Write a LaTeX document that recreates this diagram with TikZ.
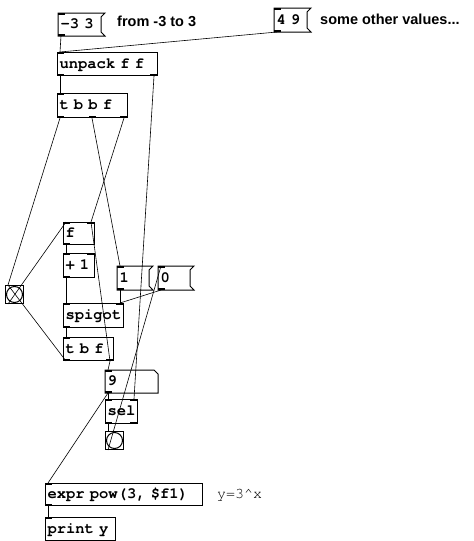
\documentclass[tikz,border=0pt]{standalone}
\usepackage{fontspec}
\setmainfont{Liberation Sans}
\newfontfamily\pdmono{texgyrecursor}[Extension=.otf, UprightFont=*-regular, BoldFont=*-bold]
\newcommand\pdfnt{\pdmono\bfseries\fontsize{15.5}{17}\selectfont\fontdimen2\font=9.3pt\fontdimen3\font=0pt\fontdimen4\font=0pt}
\newcommand\cmtfnt{\rmfamily\bfseries\fontsize{14.5}{17}\selectfont}
\tikzset{
  boxline/.style={line width=1pt, line join=miter},
  pdbox/.style={boxline, draw, anchor=north west, inner xsep=2pt, inner ysep=0pt,
    font=\pdfnt, align=left, text height=11pt, text depth=3pt},
  pdmsgbox/.style={pdbox, draw=none},
  bangbox/.style={boxline, draw, anchor=north west, inner sep=0pt, minimum width=18pt, minimum height=18pt},
  conn/.style={line width=0.6pt},
  cmt/.style={anchor=west, inner sep=0pt, font=\cmtfnt},
}
\newcommand\pdmsg[1]{\draw[boxline] (#1.north west) -- ([xshift=4pt]#1.north east) -- ([yshift=-4pt]#1.north east) -- ([yshift=4pt]#1.south east) -- ([xshift=4pt]#1.south east) -- (#1.south west) -- cycle;}
\newcommand\pdnum[1]{\draw[boxline] (#1.north west) -- ([xshift=-4pt]#1.north east) -- ([yshift=-4pt]#1.north east) -- (#1.south east) -- (#1.south west) -- cycle;}
\newcommand\iol[3]{%
  \foreach \xx in {#2}{\fill ([xshift=\xx pt]#1.north west) rectangle ++(7,2);}%
  \foreach \xx in {#3}{\fill ([xshift=\xx pt]#1.south west) rectangle ++(7,-2);}}
\begin{document}
\begin{tikzpicture}[x=1pt,y=-1pt]
\useasboundingbox[fill=white] (0,0) rectangle (474,541);
% message boxes
\node[pdmsgbox, minimum width=42pt, minimum height=22pt, text width=38pt] (m1) at (58,13) {\mbox{-3 3}};
\node[pdmsgbox, minimum width=32pt, minimum height=23pt, text width=28pt] (m2) at (274,8) {\mbox{4 9}};
\node[pdmsgbox, minimum width=31pt, minimum height=23pt, text width=27pt] (one) at (117,266) {\mbox{1}};
\node[pdmsgbox, minimum width=31pt, minimum height=23pt, text width=27pt] (zero) at (158,266) {\mbox{0}};
\pdmsg{m1}\pdmsg{m2}\pdmsg{one}\pdmsg{zero}
% comments
\node[cmt] (c1) at (117,21) {from -3 to 3};
\node[cmt] (c2) at (320,19) {some other values...};
\node[anchor=west, inner sep=0pt, font=\pdmono\fontsize{15}{17}\selectfont] (c3) at (217,495) {y=3\textasciicircum x};
% object boxes
\node[pdbox, minimum width=100pt, minimum height=23pt, text width=96pt] (unpack) at (57,52) {\mbox{unpack f f}};
\node[pdbox, minimum width=70pt, minimum height=24pt, text width=66pt] (tbbf) at (57,93) {\mbox{t b b f}};
\node[pdbox, minimum width=31pt, minimum height=22pt, text width=27pt] (f) at (63,222) {\mbox{f}};
\node[pdbox, minimum width=31pt, minimum height=24pt, text width=27pt] (plus) at (63,253) {\mbox{+ 1}};
\node[pdbox, minimum width=60pt, minimum height=24pt, text width=56pt] (spigot) at (63,303) {\mbox{spigot}};
\node[pdbox, minimum width=50pt, minimum height=23pt, text width=46pt] (tbf) at (63,337) {\mbox{t b f}};
\node[pdmsgbox, minimum width=52pt, minimum height=22pt, text width=48pt] (nine) at (105,370) {\mbox{9}};
\pdnum{nine}
\node[pdbox, minimum width=32pt, minimum height=24pt, text width=28pt] (sel) at (105,399) {\mbox{sel}};
\node[pdbox, minimum width=157pt, minimum height=22pt, text width=153pt] (expr) at (45,483) {\mbox{expr pow(3, \$f1)}};
\node[pdbox, minimum width=70pt, minimum height=23pt, text width=66pt] (print) at (45,517) {\mbox{print y}};
% bangs
\node[bangbox] (bang1) at (5,285) {};
\draw[boxline] (bang1.center) circle (8pt);
\node[bangbox] (bang2) at (105,431) {};
\draw[boxline] (bang2.center) circle (8pt);
% inlets and outlets
\iol{m1}{0}{0}
\iol{m2}{0}{0}
\iol{one}{0}{0}
\iol{zero}{0}{0}
\iol{unpack}{0}{0,93}
\iol{tbbf}{0}{0,32,63}
\iol{f}{0,24}{0}
\iol{plus}{0,24}{0}
\iol{spigot}{0,53}{0}
\iol{tbf}{0}{0,43}
\iol{nine}{0}{0}
\iol{sel}{0,25}{0,25}
\iol{expr}{0}{0}
\fill ([xshift=0pt]print.north west) rectangle ++(7,2);
% connections
\draw[conn] ([xshift=3pt]m1.south west) -- ([xshift=3pt]unpack.north west);
\draw[conn] ([xshift=3pt]m2.south west) -- ([xshift=3pt]unpack.north west);
\draw[conn] ([xshift=3pt]unpack.south west) -- ([xshift=3pt]tbbf.north west);
\draw[conn] ([xshift=-4pt]unpack.south east) -- ([xshift=-4pt]sel.north east);
\draw[conn] ([xshift=3pt]tbbf.south west) -- ([xshift=3pt]bang1.north west);
\draw[conn] ([xshift=35pt]tbbf.south west) -- ([xshift=3pt]one.north west);
\draw[conn] ([xshift=-4pt]tbbf.south east) -- ([xshift=-4pt]f.north east);
\draw[conn] ([xshift=3pt]bang1.south west) -- ([xshift=3pt]f.north west);
\draw[conn] ([xshift=3pt]tbf.south west) -- ([xshift=3pt]bang1.north west);
\draw[conn] ([xshift=3pt]f.south west) -- ([xshift=3pt]plus.north west);
\draw[conn] ([xshift=3pt]plus.south west) -- ([xshift=3pt]spigot.north west);
\draw[conn] ([xshift=3pt]one.south west) -- ([xshift=-4pt]spigot.north east);
\draw[conn] ([xshift=3pt]zero.south west) -- ([xshift=-4pt]spigot.north east);
\draw[conn] ([xshift=3pt]spigot.south west) -- ([xshift=3pt]tbf.north west);
\draw[conn] ([xshift=-4pt]tbf.south east) -- ([xshift=-4pt]f.north east);
\draw[conn] ([xshift=-4pt]tbf.south east) -- ([xshift=3pt]nine.north west);
\draw[conn] ([xshift=3pt]nine.south west) -- ([xshift=3pt]sel.north west);
\draw[conn] ([xshift=3pt]nine.south west) -- ([xshift=3pt]expr.north west);
\draw[conn] ([xshift=3pt]sel.south west) -- ([xshift=3pt]bang2.north west);
\draw[conn] ([xshift=3pt]bang2.south west) -- ([xshift=3pt]zero.north west);
\draw[conn] ([xshift=3pt]expr.south west) -- ([xshift=3pt]print.north west);
\end{tikzpicture}
\end{document}
